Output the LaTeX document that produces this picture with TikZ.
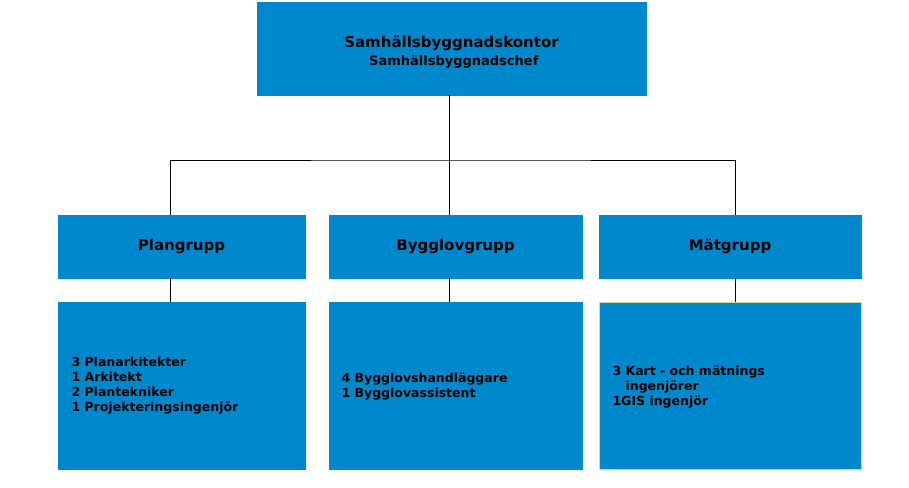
\documentclass[tikz,border=0pt]{standalone}
\usepackage{fontspec}
\setmainfont{DejaVu Sans}
\definecolor{bl}{HTML}{0088CC}
\definecolor{yb}{HTML}{D8D890}
\begin{document}
\begin{tikzpicture}[x=1pt,y=-1pt,
  box/.style={fill=bl,draw=bl,minimum width=#1,inner sep=0pt},
  ln/.style={draw=black,line width=0.6pt},
  txt/.style={font=\bfseries\fontsize{12.5}{15}\selectfont,align=left}]
\useasboundingbox (0,0) rectangle (909,487);
\node[box=389pt,minimum height=93pt] (top) at (451.5,48.5) {};
\node[font=\bfseries\fontsize{15}{18}\selectfont,align=center] at (451.5,52) {Samhällsbyggnadskontor\\\fontsize{13}{16}\selectfont\ Samhällsbyggnadschef};
\node[box=247pt,minimum height=63pt,font=\bfseries\fontsize{15}{18}\selectfont] (p) at (181.5,246.5) {Plangrupp};
\node[box=253pt,minimum height=63pt,font=\bfseries\fontsize{15}{18}\selectfont] (b) at (455.5,246.5) {Bygglovgrupp};
\node[box=262pt,minimum height=63pt,font=\bfseries\fontsize{15}{18}\selectfont] (m) at (730,246.5) {Mätgrupp};
\node[box=247pt,minimum height=167pt] (p2) at (181.5,385.5) {};
\node[box=253pt,minimum height=167pt] (b2) at (455.5,385.5) {};
\node[box=262pt,minimum height=167pt,draw=yb] (m2) at (730,385.5) {};
\node[txt,anchor=west] at (68,386) {3 Planarkitekter\\1 Arkitekt\\2 Plantekniker\\1 Projekteringsingenjör};
\node[txt,anchor=west] at (338,387) {4 Bygglovshandläggare\\1 Bygglovassistent};
\node[txt,anchor=west] at (609,387) {3 Kart - och mätnings\\\ \ \ ingenjörer\\1GIS ingenjör};
\coordinate (j) at (449,160);
\draw[ln] (top.south -| j) -- (b.north -| j);
\draw[ln] (p.north -| 170,0) |- (j) -| (m.north -| 735,0);
\draw[ln] (p.south -| 170,0) -- (p2.north -| 170,0);
\draw[ln] (b.south -| 449,0) -- (b2.north -| 449,0);
\draw[ln] (m.south -| 735,0) -- (m2.north -| 735,0);
\end{tikzpicture}
\end{document}
